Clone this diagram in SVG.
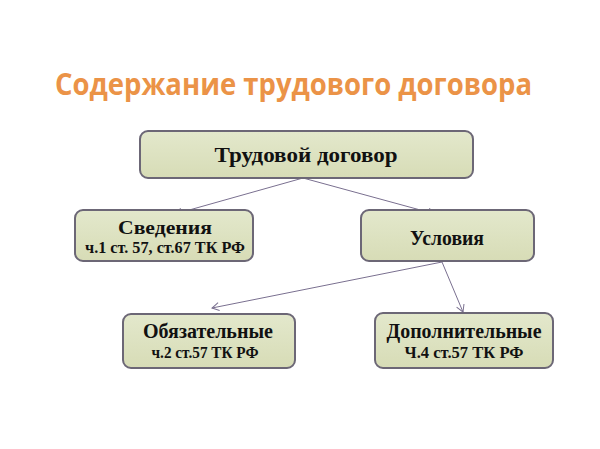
<svg xmlns="http://www.w3.org/2000/svg" width="600" height="449" viewBox="0 0 600 449">
<defs>
<linearGradient id="g" x1="0" y1="0" x2="0" y2="1">
<stop offset="0" stop-color="#e3e8cc"/>
<stop offset="1" stop-color="#d7dcb6"/>
</linearGradient>
<marker id="a" markerWidth="10" markerHeight="10" refX="8" refY="5" orient="auto" markerUnits="userSpaceOnUse">
<path d="M1,1 L8,5 L1,9" fill="none" stroke="#7a7090" stroke-width="1"/>
</marker>
<style>
.box{fill:url(#g);stroke:#6c6776;stroke-width:2}
.t{font-family:"Liberation Serif","Times New Roman",serif;font-weight:bold;fill:#111;text-anchor:middle}
.c{fill:none;stroke:#7a7090;stroke-width:1;marker-end:url(#a)}
</style>
</defs>
<rect width="600" height="449" fill="#ffffff"/>
<text x="55" y="95" font-family="'Open Sans','Liberation Sans',sans-serif" font-weight="bold" font-size="30" fill="#eb9347" textLength="477" lengthAdjust="spacingAndGlyphs">Содержание трудового договора</text>
<g id="connectors">
<line class="c" x1="303" y1="178" x2="175" y2="214"/>
<line class="c" x1="303" y1="178" x2="435" y2="214"/>
<line class="c" x1="442" y1="262" x2="212" y2="308"/>
<line class="c" x1="442" y1="262" x2="463" y2="312"/>
</g>
<g id="n-dogovor">
<rect class="box" x="140" y="131" width="333" height="47" rx="8"/>
<text class="t" x="306" y="162" font-size="22" textLength="183" lengthAdjust="spacingAndGlyphs">Трудовой договор</text>
</g>
<g id="n-svedeniya">
<rect class="box" x="75" y="210" width="178" height="51" rx="8"/>
<text class="t" x="165" y="234" font-size="19" textLength="94" lengthAdjust="spacingAndGlyphs">Сведения</text>
<text class="t" x="165" y="253" font-size="16" textLength="160" lengthAdjust="spacingAndGlyphs">ч.1 ст. 57, ст.67 ТК РФ</text>
</g>
<g id="n-usloviya">
<rect class="box" x="361" y="210" width="173" height="51" rx="8"/>
<text class="t" x="447" y="245" font-size="20" textLength="74" lengthAdjust="spacingAndGlyphs">Условия</text>
</g>
<g id="n-obyaz">
<rect class="box" x="123" y="314" width="172" height="54" rx="8"/>
<text class="t" x="208" y="338" font-size="20" textLength="130" lengthAdjust="spacingAndGlyphs">Обязательные</text>
<text class="t" x="205" y="358" font-size="17" textLength="107" lengthAdjust="spacingAndGlyphs">ч.2 ст.57 ТК РФ</text>
</g>
<g id="n-dopoln">
<rect class="box" x="375" y="313" width="178" height="55" rx="8"/>
<text class="t" x="464" y="338" font-size="20" textLength="155" lengthAdjust="spacingAndGlyphs">Дополнительные</text>
<text class="t" x="464" y="358" font-size="17" textLength="119" lengthAdjust="spacingAndGlyphs">Ч.4 ст.57 ТК РФ</text>
</g>
</svg>
